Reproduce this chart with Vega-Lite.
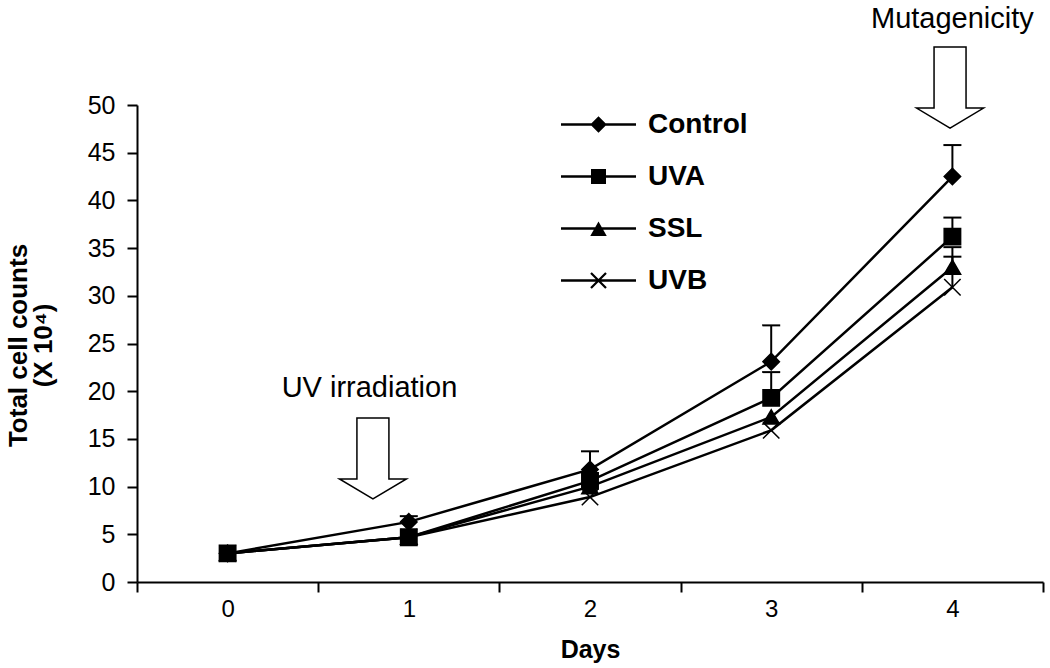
{
  "$schema": "https://vega.github.io/schema/vega-lite/v6.json",
  "width": 906,
  "height": 477,
  "autosize": {"type": "none"},
  "padding": {"left": 137, "top": 105, "right": 7, "bottom": 86},
  "background": "white",
  "config": {
    "view": {"stroke": null},
    "font": "Liberation Sans",
    "axis": {"grid": false, "domainColor": "black", "domainWidth": 2, "tickColor": "black", "tickWidth": 2, "labelColor": "black", "titleColor": "black", "labelFont": "Liberation Sans", "titleFont": "Liberation Sans"}
  },
  "resolve": {"scale": {"shape": "independent"}},
  "datasets": {
    "counts": [
      {"series": "Control", "day": 0, "count": 3.0, "upper": null},
      {"series": "Control", "day": 1, "count": 6.3, "upper": 6.9},
      {"series": "Control", "day": 2, "count": 11.8, "upper": 13.7},
      {"series": "Control", "day": 3, "count": 23.1, "upper": 26.9},
      {"series": "Control", "day": 4, "count": 42.5, "upper": 45.8},
      {"series": "UVA", "day": 0, "count": 3.0, "upper": null},
      {"series": "UVA", "day": 1, "count": 4.7, "upper": null},
      {"series": "UVA", "day": 2, "count": 10.6, "upper": null},
      {"series": "UVA", "day": 3, "count": 19.3, "upper": 22.0},
      {"series": "UVA", "day": 4, "count": 36.2, "upper": 38.2},
      {"series": "SSL", "day": 0, "count": 3.0, "upper": null},
      {"series": "SSL", "day": 1, "count": 4.7, "upper": null},
      {"series": "SSL", "day": 2, "count": 10.0, "upper": null},
      {"series": "SSL", "day": 3, "count": 17.3, "upper": null},
      {"series": "SSL", "day": 4, "count": 33.0, "upper": 34.1},
      {"series": "UVB", "day": 0, "count": 3.0, "upper": null},
      {"series": "UVB", "day": 1, "count": 4.7, "upper": null},
      {"series": "UVB", "day": 2, "count": 8.9, "upper": null},
      {"series": "UVB", "day": 3, "count": 15.9, "upper": null},
      {"series": "UVB", "day": 4, "count": 30.9, "upper": 35.1}
    ],
    "notes": [
      {"label": "UV irradiation", "day": 0.783, "count": 19.4},
      {"label": "Mutagenicity", "day": 4.0, "count": 58.07}
    ],
    "arrows": [
      {"day": 0.802, "count": 12.95},
      {"day": 3.987, "count": 51.83}
    ]
  },
  "layer": [
    {
      "data": {"name": "counts"},
      "mark": {"type": "line", "color": "black", "strokeWidth": 2.5},
      "encoding": {
        "x": {
          "field": "day", "type": "quantitative",
          "scale": {"domain": [-0.5, 4.5], "nice": false, "zero": false},
          "axis": {
            "values": [-0.5, 0, 0.5, 1, 1.5, 2, 2.5, 3, 3.5, 4, 4.5],
            "labelExpr": "datum.value % 1 === 0 ? '' + datum.value : ''",
            "tickOpacity": {"condition": {"test": "datum.value % 1 === 0", "value": 0}, "value": 1},
            "labelOverlap": false, "labelFlush": false,
            "tickSize": 10, "labelPadding": 5, "labelFontSize": 24,
            "title": "Days", "titleFontSize": 25, "titleFontWeight": "bold",
            "titleBaseline": "alphabetic", "titleY": 75
          }
        },
        "y": {
          "field": "count", "type": "quantitative",
          "scale": {"domain": [0, 50], "nice": false},
          "axis": {
            "values": [0, 5, 10, 15, 20, 25, 30, 35, 40, 45, 50],
            "tickSize": 10, "labelPadding": 12, "labelFontSize": 25,
            "title": ["Total cell counts", "(X 10⁴)"], "titleFontSize": 26, "titleFontWeight": "bold",
            "titleLineHeight": 25, "titleX": -106, "titleY": 240, "titleBaseline": "bottom"
          }
        },
        "detail": {"field": "series"}
      }
    },
    {
      "data": {"name": "counts"},
      "transform": [{"filter": "isValid(datum.upper)"}],
      "mark": {"type": "rule", "color": "black", "strokeWidth": 2},
      "encoding": {
        "x": {"field": "day", "type": "quantitative"},
        "y": {"field": "count", "type": "quantitative"},
        "y2": {"field": "upper"}
      }
    },
    {
      "data": {"name": "counts"},
      "transform": [{"filter": "isValid(datum.upper)"}],
      "mark": {"type": "tick", "orient": "horizontal", "color": "black", "size": 18, "thickness": 2, "opacity": 1},
      "encoding": {
        "x": {"field": "day", "type": "quantitative"},
        "y": {"field": "upper", "type": "quantitative"}
      }
    },
    {
      "data": {"name": "counts"},
      "mark": {"type": "point", "filled": true, "fill": "black", "stroke": "black", "strokeWidth": 1.5, "opacity": 1, "size": 270},
      "encoding": {
        "x": {"field": "day", "type": "quantitative"},
        "y": {"field": "count", "type": "quantitative"},
        "shape": {
          "field": "series", "type": "nominal",
          "scale": {"domain": ["Control", "UVA", "SSL", "UVB"], "range": ["diamond", "square", "triangle-up", "M-1,-1L1,1M-1,1L1,-1"]},
          "legend": null
        }
      }
    },
    {
      "data": {"name": "counts"},
      "transform": [{"filter": "false"}],
      "mark": {"type": "point", "filled": true, "fill": "black", "opacity": 1},
      "encoding": {
        "x": {"field": "day", "type": "quantitative"},
        "y": {"field": "count", "type": "quantitative"},
        "shape": {
          "field": "series", "type": "nominal",
          "scale": {"domain": ["Control", "UVA", "SSL", "UVB"], "range": [
            "M-1,-0.034L1,-0.034L1,0.034L-1,0.034ZM-0.22,0L0,-0.22L0.22,0L0,0.22Z",
            "M-1,-0.034L1,-0.034L1,0.034L-1,0.034ZM-0.2,-0.2L0.2,-0.2L0.2,0.2L-0.2,0.2Z",
            "M-1,-0.034L1,-0.034L1,0.034L-1,0.034ZM0,-0.19L0.22,0.2L-0.22,0.2Z",
            "M-1,-0.034L1,-0.034L1,0.034L-1,0.034ZM-0.179,-0.221L0.221,0.179L0.179,0.221L-0.221,-0.179ZM-0.221,0.179L0.179,-0.221L0.221,-0.179L-0.179,0.221Z"
          ]},
          "legend": {
            "orient": "none", "legendX": 424, "legendY": -18, "title": null, "padding": 0,
            "symbolSize": 5625, "labelFont": "Liberation Sans", "labelFontSize": 28, "labelFontWeight": "bold",
            "labelColor": "black", "labelOffset": 12, "rowPadding": -30,
            "symbolFillColor": "black", "symbolStrokeWidth": 0, "symbolOpacity": 1
          }
        }
      }
    },
    {
      "data": {"name": "notes"},
      "mark": {"type": "text", "font": "Liberation Sans", "fontSize": 29, "align": "center", "baseline": "alphabetic", "color": "black"},
      "encoding": {
        "x": {"field": "day", "type": "quantitative"},
        "y": {"field": "count", "type": "quantitative"},
        "text": {"field": "label"}
      }
    },
    {
      "data": {"name": "arrows"},
      "mark": {"type": "point", "filled": false, "stroke": "black", "strokeWidth": 1.5, "opacity": 1, "size": 6561,
        "shape": "M-0.395,-1L0.395,-1L0.395,0.506L0.827,0.506L0,1L-0.827,0.506L-0.395,0.506Z"},
      "encoding": {
        "x": {"field": "day", "type": "quantitative"},
        "y": {"field": "count", "type": "quantitative"}
      }
    }
  ]
}
